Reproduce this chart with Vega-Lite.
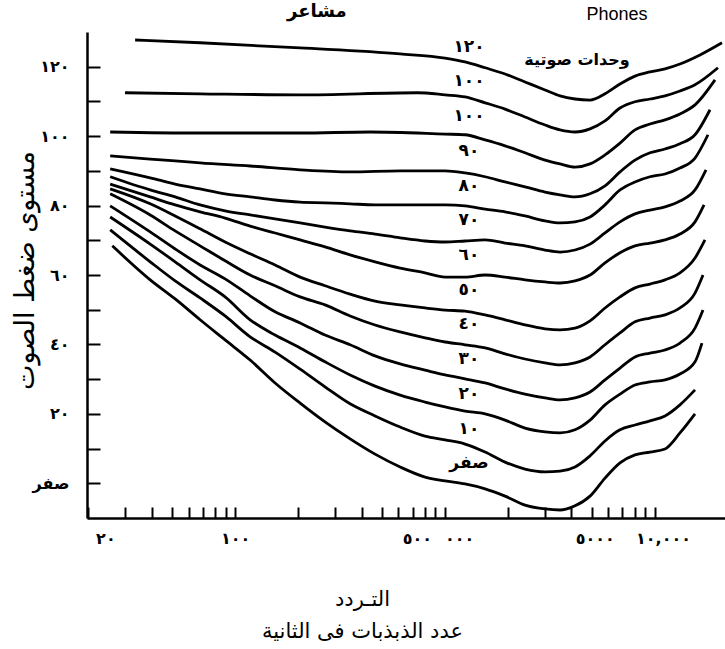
{
  "$schema": "https://vega.github.io/schema/vega-lite/v6.json",
  "autosize": "none",
  "width": 638,
  "height": 486,
  "padding": {"left": 87, "top": 32, "right": 0, "bottom": 131},
  "background": "white",
  "config": {"view": {"stroke": null}, "font": "DejaVu Sans"},
  "datasets": {
    "curves": [
      {"p":120,"f":33.4,"db":127.7},{"p":120,"f":68.1,"db":126.9},{"p":120,"f":204,"db":125.4},{"p":120,"f":611,"db":123.7},{"p":120,"f":1000,"db":122.5},{"p":120,"f":1245,"db":121.4},{"p":120,"f":1551,"db":119.7},{"p":120,"f":1931,"db":117.9},{"p":120,"f":2404,"db":115.6},{"p":120,"f":2994,"db":113.3},{"p":120,"f":3529,"db":111.6},{"p":120,"f":4159,"db":110.7},{"p":120,"f":4904,"db":110.4},{"p":120,"f":5780,"db":112.2},{"p":120,"f":6813,"db":115.0},{"p":120,"f":8030,"db":117.3},{"p":120,"f":9465,"db":118.5},{"p":120,"f":11160,"db":119.4},{"p":120,"f":13150,"db":120.8},{"p":120,"f":16380,"db":123.4},{"p":120,"f":20850,"db":126.9},
      {"p":110,"f":29.9,"db":112.5},{"p":110,"f":68.1,"db":112.2},{"p":110,"f":204,"db":111.9},{"p":110,"f":736,"db":112.5},{"p":110,"f":1000,"db":111.9},{"p":110,"f":1245,"db":111.3},{"p":110,"f":1551,"db":109.6},{"p":110,"f":1931,"db":107.8},{"p":110,"f":2404,"db":105.5},{"p":110,"f":2994,"db":103.2},{"p":110,"f":3529,"db":101.8},{"p":110,"f":4159,"db":101.2},{"p":110,"f":4904,"db":102.1},{"p":110,"f":5780,"db":104.4},{"p":110,"f":6813,"db":108.1},{"p":110,"f":8030,"db":109.9},{"p":110,"f":9465,"db":110.7},{"p":110,"f":11160,"db":111.6},{"p":110,"f":13150,"db":113.0},{"p":110,"f":15510,"db":114.8},{"p":110,"f":19950,"db":119.7},
      {"p":100,"f":25.4,"db":101.2},{"p":100,"f":68.1,"db":100.9},{"p":100,"f":204,"db":100.9},{"p":100,"f":439,"db":101.2},{"p":100,"f":1000,"db":100.6},{"p":100,"f":1245,"db":100.4},{"p":100,"f":1551,"db":98.9},{"p":100,"f":1931,"db":97.2},{"p":100,"f":2404,"db":95.2},{"p":100,"f":2994,"db":93.1},{"p":100,"f":3529,"db":92.0},{"p":100,"f":4159,"db":91.1},{"p":100,"f":4904,"db":92.0},{"p":100,"f":5780,"db":94.6},{"p":100,"f":6813,"db":98.0},{"p":100,"f":8030,"db":101.8},{"p":100,"f":9465,"db":103.5},{"p":100,"f":11160,"db":104.7},{"p":100,"f":13150,"db":106.4},{"p":100,"f":15510,"db":109.0},{"p":100,"f":19310,"db":116.2},
      {"p":90,"f":25.4,"db":94.3},{"p":90,"f":39.4,"db":93.4},{"p":90,"f":51.8,"db":92.9},{"p":90,"f":68.1,"db":92.3},{"p":90,"f":117.9,"db":91.4},{"p":90,"f":204,"db":90.3},{"p":90,"f":353,"db":89.7},{"p":90,"f":611,"db":90.0},{"p":90,"f":1000,"db":90.0},{"p":90,"f":1245,"db":89.4},{"p":90,"f":1551,"db":88.3},{"p":90,"f":1931,"db":86.8},{"p":90,"f":2404,"db":85.4},{"p":90,"f":2994,"db":83.9},{"p":90,"f":3529,"db":83.1},{"p":90,"f":4159,"db":82.5},{"p":90,"f":4904,"db":83.4},{"p":90,"f":5780,"db":85.7},{"p":90,"f":6813,"db":89.7},{"p":90,"f":8030,"db":93.1},{"p":90,"f":9465,"db":95.2},{"p":90,"f":11160,"db":96.3},{"p":90,"f":13150,"db":97.8},{"p":90,"f":15510,"db":100.4},{"p":90,"f":18280,"db":107.6},
      {"p":80,"f":25.4,"db":90.6},{"p":80,"f":39.4,"db":88.0},{"p":80,"f":51.8,"db":86.2},{"p":80,"f":68.1,"db":84.8},{"p":80,"f":89.6,"db":83.4},{"p":80,"f":117.9,"db":82.5},{"p":80,"f":155,"db":81.6},{"p":80,"f":204,"db":81.0},{"p":80,"f":268,"db":80.8},{"p":80,"f":353,"db":80.5},{"p":80,"f":464,"db":80.2},{"p":80,"f":611,"db":80.2},{"p":80,"f":803,"db":80.2},{"p":80,"f":1000,"db":80.2},{"p":80,"f":1245,"db":79.9},{"p":80,"f":1551,"db":79.0},{"p":80,"f":1931,"db":78.2},{"p":80,"f":2404,"db":77.0},{"p":80,"f":2994,"db":75.6},{"p":80,"f":3529,"db":75.0},{"p":80,"f":4159,"db":75.3},{"p":80,"f":4904,"db":76.7},{"p":80,"f":5780,"db":80.2},{"p":80,"f":6813,"db":84.5},{"p":80,"f":8030,"db":86.8},{"p":80,"f":9465,"db":88.3},{"p":80,"f":11160,"db":89.1},{"p":80,"f":13150,"db":90.8},{"p":80,"f":15510,"db":93.7},{"p":80,"f":17880,"db":100.4},
      {"p":70,"f":25.4,"db":88.3},{"p":70,"f":39.4,"db":84.5},{"p":70,"f":51.8,"db":82.5},{"p":70,"f":68.1,"db":80.2},{"p":70,"f":89.6,"db":78.5},{"p":70,"f":117.9,"db":77.3},{"p":70,"f":155,"db":76.2},{"p":70,"f":204,"db":75.0},{"p":70,"f":268,"db":73.8},{"p":70,"f":353,"db":72.7},{"p":70,"f":464,"db":71.8},{"p":70,"f":611,"db":70.7},{"p":70,"f":803,"db":69.8},{"p":70,"f":1000,"db":69.5},{"p":70,"f":1245,"db":69.8},{"p":70,"f":1551,"db":70.1},{"p":70,"f":1931,"db":69.2},{"p":70,"f":2404,"db":68.4},{"p":70,"f":2994,"db":67.2},{"p":70,"f":3529,"db":66.6},{"p":70,"f":4159,"db":67.2},{"p":70,"f":4904,"db":68.9},{"p":70,"f":5780,"db":72.1},{"p":70,"f":6813,"db":75.3},{"p":70,"f":8030,"db":77.6},{"p":70,"f":9465,"db":78.7},{"p":70,"f":11160,"db":79.6},{"p":70,"f":13150,"db":81.3},{"p":70,"f":15510,"db":84.5},{"p":70,"f":17500,"db":90.3},
      {"p":60,"f":25.4,"db":86.2},{"p":60,"f":39.4,"db":82.5},{"p":60,"f":51.8,"db":80.2},{"p":60,"f":68.1,"db":78.2},{"p":60,"f":89.6,"db":76.4},{"p":60,"f":117.9,"db":74.1},{"p":60,"f":155,"db":72.1},{"p":60,"f":204,"db":70.1},{"p":60,"f":268,"db":68.1},{"p":60,"f":353,"db":65.8},{"p":60,"f":464,"db":63.8},{"p":60,"f":611,"db":62.0},{"p":60,"f":803,"db":60.6},{"p":60,"f":1000,"db":59.4},{"p":60,"f":1245,"db":59.4},{"p":60,"f":1551,"db":60.0},{"p":60,"f":1931,"db":59.4},{"p":60,"f":2404,"db":58.6},{"p":60,"f":2994,"db":58.0},{"p":60,"f":3529,"db":57.7},{"p":60,"f":4159,"db":58.3},{"p":60,"f":4904,"db":60.0},{"p":60,"f":5780,"db":63.5},{"p":60,"f":6813,"db":66.4},{"p":60,"f":8030,"db":68.4},{"p":60,"f":9465,"db":69.2},{"p":60,"f":11160,"db":70.1},{"p":60,"f":13150,"db":71.8},{"p":60,"f":15510,"db":75.3},{"p":60,"f":17120,"db":80.2},
      {"p":50,"f":25.4,"db":84.8},{"p":50,"f":39.4,"db":80.5},{"p":50,"f":51.8,"db":77.0},{"p":50,"f":68.1,"db":73.3},{"p":50,"f":89.6,"db":69.5},{"p":50,"f":117.9,"db":66.1},{"p":50,"f":155,"db":62.9},{"p":50,"f":204,"db":59.4},{"p":50,"f":268,"db":56.9},{"p":50,"f":353,"db":54.5},{"p":50,"f":464,"db":52.5},{"p":50,"f":611,"db":51.4},{"p":50,"f":803,"db":50.5},{"p":50,"f":1000,"db":49.9},{"p":50,"f":1245,"db":49.6},{"p":50,"f":1551,"db":48.5},{"p":50,"f":1931,"db":47.1},{"p":50,"f":2404,"db":45.6},{"p":50,"f":2994,"db":44.5},{"p":50,"f":3529,"db":44.2},{"p":50,"f":4159,"db":44.7},{"p":50,"f":4904,"db":46.8},{"p":50,"f":5780,"db":50.5},{"p":50,"f":6813,"db":53.7},{"p":50,"f":8030,"db":56.3},{"p":50,"f":9465,"db":57.4},{"p":50,"f":11160,"db":58.6},{"p":50,"f":13150,"db":60.6},{"p":50,"f":15510,"db":64.9},{"p":50,"f":17300,"db":70.1},
      {"p":40,"f":25.4,"db":83.4},{"p":40,"f":39.4,"db":77.3},{"p":40,"f":51.8,"db":72.7},{"p":40,"f":68.1,"db":68.4},{"p":40,"f":89.6,"db":64.1},{"p":40,"f":117.9,"db":60.0},{"p":40,"f":155,"db":56.9},{"p":40,"f":204,"db":53.7},{"p":40,"f":268,"db":51.4},{"p":40,"f":353,"db":48.2},{"p":40,"f":464,"db":45.6},{"p":40,"f":611,"db":43.6},{"p":40,"f":803,"db":41.9},{"p":40,"f":1000,"db":40.7},{"p":40,"f":1245,"db":39.9},{"p":40,"f":1551,"db":39.0},{"p":40,"f":1931,"db":37.3},{"p":40,"f":2404,"db":35.8},{"p":40,"f":2994,"db":34.7},{"p":40,"f":3529,"db":34.1},{"p":40,"f":4159,"db":34.7},{"p":40,"f":4904,"db":36.4},{"p":40,"f":5780,"db":39.9},{"p":40,"f":6813,"db":43.3},{"p":40,"f":8030,"db":46.5},{"p":40,"f":9465,"db":47.6},{"p":40,"f":11160,"db":48.5},{"p":40,"f":13150,"db":50.5},{"p":40,"f":15510,"db":54.8},{"p":40,"f":16930,"db":60.0},
      {"p":30,"f":25.4,"db":79.9},{"p":30,"f":39.4,"db":72.4},{"p":30,"f":51.8,"db":67.5},{"p":30,"f":68.1,"db":62.9},{"p":30,"f":89.6,"db":58.9},{"p":30,"f":117.9,"db":54.0},{"p":30,"f":155,"db":49.4},{"p":30,"f":204,"db":46.2},{"p":30,"f":268,"db":42.7},{"p":30,"f":353,"db":39.9},{"p":30,"f":464,"db":36.7},{"p":30,"f":611,"db":34.4},{"p":30,"f":803,"db":32.6},{"p":30,"f":1000,"db":31.2},{"p":30,"f":1245,"db":30.1},{"p":30,"f":1551,"db":28.9},{"p":30,"f":1931,"db":27.2},{"p":30,"f":2404,"db":25.7},{"p":30,"f":2994,"db":24.6},{"p":30,"f":3529,"db":24.0},{"p":30,"f":4159,"db":24.6},{"p":30,"f":4904,"db":26.3},{"p":30,"f":5780,"db":29.8},{"p":30,"f":6813,"db":33.2},{"p":30,"f":8030,"db":36.4},{"p":30,"f":9465,"db":37.5},{"p":30,"f":11160,"db":38.4},{"p":30,"f":13150,"db":40.4},{"p":30,"f":15510,"db":44.7},{"p":30,"f":16930,"db":49.9},
      {"p":20,"f":25.4,"db":76.7},{"p":20,"f":39.4,"db":68.9},{"p":20,"f":51.8,"db":63.8},{"p":20,"f":68.1,"db":58.6},{"p":20,"f":89.6,"db":53.7},{"p":20,"f":117.9,"db":47.1},{"p":20,"f":155,"db":42.7},{"p":20,"f":204,"db":39.0},{"p":20,"f":268,"db":35.0},{"p":20,"f":353,"db":31.2},{"p":20,"f":464,"db":28.0},{"p":20,"f":611,"db":25.4},{"p":20,"f":803,"db":23.4},{"p":20,"f":1000,"db":22.0},{"p":20,"f":1245,"db":20.8},{"p":20,"f":1551,"db":20.0},{"p":20,"f":1931,"db":18.2},{"p":20,"f":2404,"db":15.9},{"p":20,"f":2994,"db":14.8},{"p":20,"f":3529,"db":14.5},{"p":20,"f":4159,"db":15.4},{"p":20,"f":4904,"db":18.2},{"p":20,"f":5780,"db":22.6},{"p":20,"f":6813,"db":25.7},{"p":20,"f":8030,"db":28.3},{"p":20,"f":9465,"db":29.2},{"p":20,"f":11160,"db":29.8},{"p":20,"f":13150,"db":31.5},{"p":20,"f":15510,"db":35.0},{"p":20,"f":16740,"db":40.4},
      {"p":10,"f":25.4,"db":73.0},{"p":10,"f":39.4,"db":63.8},{"p":10,"f":51.8,"db":58.3},{"p":10,"f":68.1,"db":53.4},{"p":10,"f":89.6,"db":48.2},{"p":10,"f":117.9,"db":42.2},{"p":10,"f":155,"db":37.8},{"p":10,"f":204,"db":32.9},{"p":10,"f":268,"db":27.8},{"p":10,"f":353,"db":22.9},{"p":10,"f":464,"db":19.4},{"p":10,"f":611,"db":16.2},{"p":10,"f":803,"db":13.6},{"p":10,"f":1000,"db":12.5},{"p":10,"f":1245,"db":11.3},{"p":10,"f":1551,"db":9.0},{"p":10,"f":1931,"db":6.1},{"p":10,"f":2404,"db":4.1},{"p":10,"f":2994,"db":3.3},{"p":10,"f":3529,"db":3.5},{"p":10,"f":4159,"db":4.7},{"p":10,"f":4904,"db":7.9},{"p":10,"f":5780,"db":12.2},{"p":10,"f":6813,"db":15.4},{"p":10,"f":8030,"db":16.8},{"p":10,"f":9465,"db":18.0},{"p":10,"f":11160,"db":19.4},{"p":10,"f":13150,"db":22.6},{"p":10,"f":15510,"db":26.9},
      {"p":0,"f":26,"db":68.4},{"p":0,"f":39.4,"db":58.6},{"p":0,"f":51.8,"db":53.1},{"p":0,"f":68.1,"db":47.1},{"p":0,"f":89.6,"db":41.3},{"p":0,"f":117.9,"db":35.5},{"p":0,"f":155,"db":28.9},{"p":0,"f":204,"db":23.1},{"p":0,"f":268,"db":17.7},{"p":0,"f":353,"db":12.8},{"p":0,"f":464,"db":8.4},{"p":0,"f":611,"db":4.7},{"p":0,"f":803,"db":1.8},{"p":0,"f":1000,"db":0.7},{"p":0,"f":1245,"db":-0.2},{"p":0,"f":1551,"db":-1.6},{"p":0,"f":1931,"db":-3.7},{"p":0,"f":2404,"db":-6.3},{"p":0,"f":2994,"db":-7.4},{"p":0,"f":3529,"db":-7.7},{"p":0,"f":4159,"db":-6.5},{"p":0,"f":4904,"db":-3.7},{"p":0,"f":5780,"db":1.5},{"p":0,"f":6813,"db":5.9},{"p":0,"f":8030,"db":8.2},{"p":0,"f":9465,"db":9.0},{"p":0,"f":11160,"db":9.9},{"p":0,"f":13150,"db":14.5},{"p":0,"f":15510,"db":20.0}
    ],
    "labels": [
      {"p":120,"t":"١٢٠"},{"p":110,"t":"١٠٠"},{"p":100,"t":"١٠٠"},{"p":90,"t":"٩٠"},{"p":80,"t":"٨٠"},{"p":70,"t":"٧٠"},{"p":60,"t":"٦٠"},{"p":50,"t":"٥٠"},{"p":40,"t":"٤٠"},{"p":30,"t":"٣٠"},{"p":20,"t":"٢٠"},{"p":10,"t":"١٠"},{"p":0,"t":"صفر"}
    ]
  },
  "layer": [
    {
      "data": {"name": "curves"},
      "mark": {"type": "line", "stroke": "black", "strokeWidth": 2.8, "interpolate": "monotone"},
      "encoding": {
        "x": {
          "field": "f", "type": "quantitative",
          "scale": {"type": "log", "domain": [19.7, 21550], "nice": false},
          "axis": {
            "values": [20,30,40,50,60,70,80,90,100,200,300,400,500,600,700,800,900,1000,2000,3000,4000,5000,6000,7000,8000,9000,10000],
            "title": ["التـردد", "عدد الذبذبات فى الثانية"],
            "titleFont": "DejaVu Sans", "titleFontSize": 21, "titleFontWeight": "normal", "titleColor": "black",
            "titleX": 275, "titleY": 70, "titleBaseline": "top", "titleAlign": "center", "titleLineHeight": 32,
            "domainColor": "black", "domainWidth": 2.5,
            "tickColor": "black", "tickWidth": 2, "tickSize": -11,
            "labelPadding": 31, "labelBaseline": "middle",
            "labelFont": "DejaVu Sans", "labelFontSize": 16, "labelFontWeight": "bold", "labelColor": "black",
            "labelOverlap": false, "labelFlush": false, "labelBound": false,
            "grid": false,
            "labelOffset": {"condition": [{"test": "datum.value == 20", "value": 17}, {"test": "datum.value == 500", "value": 35}, {"test": "datum.value == 1000", "value": 14}, {"test": "datum.value == 5000", "value": 3}, {"test": "datum.value == 10000", "value": 8}], "value": 0},
            "labelExpr": "datum.value == 20 ? '٢٠' : datum.value == 100 ? '١٠٠' : datum.value == 500 ? '٥٠٠' : datum.value == 1000 ? '٠٠٠' : datum.value == 5000 ? '٥٠٠٠' : datum.value == 10000 ? '١٠,٠٠٠' : ''"
          }
        },
        "y": {
          "field": "db", "type": "quantitative",
          "scale": {"domain": [-10, 130], "nice": false, "zero": false},
          "axis": {
            "values": [0,10,20,30,40,50,60,70,80,90,100,110,120],
            "title": "مستوى ضغط الصوت",
            "titleFont": "DejaVu Sans", "titleFontSize": 27, "titleFontWeight": "normal", "titleColor": "black",
            "titleX": -62, "titleY": 238, "titleAngle": -90, "titleAlign": "center", "titleBaseline": "middle",
            "domainColor": "black", "domainWidth": 2.5,
            "tickColor": "black", "tickWidth": 2, "tickSize": -13,
            "labelPadding": 31,
            "labelFont": "DejaVu Sans", "labelFontSize": 16, "labelFontWeight": "bold", "labelColor": "black",
            "labelOverlap": false, "labelFlush": false, "grid": false,
            "labelExpr": "datum.value == 0 ? 'صفر' : datum.value == 20 ? '٢٠' : datum.value == 40 ? '٤٠' : datum.value == 60 ? '٦٠' : datum.value == 80 ? '٨٠' : datum.value == 100 ? '١٠٠' : datum.value == 120 ? '١٢٠' : ''"
          }
        },
        "detail": {"field": "p", "type": "nominal"}
      }
    },
    {
      "data": {"name": "labels"},
      "mark": {"type": "text", "font": "DejaVu Sans", "fontSize": 17, "fontWeight": "bold", "color": "black", "dy": -20},
      "encoding": {
        "x": {"datum": 1300, "type": "quantitative"},
        "y": {"field": "p", "type": "quantitative"},
        "text": {"field": "t"}
      }
    },
    {
      "data": {"values": [{"t": "وحدات صوتية"}]},
      "mark": {"type": "text", "font": "DejaVu Sans", "fontSize": 16, "fontWeight": "bold", "color": "black"},
      "encoding": {
        "x": {"datum": 4250, "type": "quantitative"},
        "y": {"datum": 122, "type": "quantitative"},
        "text": {"field": "t"}
      }
    },
    {
      "data": {"values": [{"t": "مشاعر"}]},
      "mark": {"type": "text", "font": "DejaVu Sans", "fontSize": 18, "fontWeight": "bold", "color": "black"},
      "encoding": {
        "x": {"datum": 245, "type": "quantitative"},
        "y": {"datum": 135.8, "type": "quantitative"},
        "text": {"field": "t"}
      }
    },
    {
      "data": {"values": [{"t": "Phones"}]},
      "mark": {"type": "text", "font": "Liberation Sans", "fontSize": 18, "color": "black"},
      "encoding": {
        "x": {"datum": 6590, "type": "quantitative"},
        "y": {"datum": 134.9, "type": "quantitative"},
        "text": {"field": "t"}
      }
    }
  ]
}
